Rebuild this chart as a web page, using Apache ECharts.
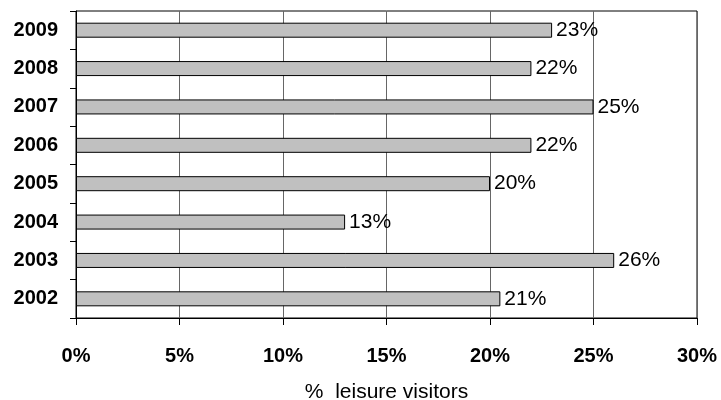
<!DOCTYPE html>
<html><head><meta charset="utf-8">
<script src="https://cdn.jsdelivr.net/npm/echarts@6/dist/echarts.min.js"></script>
<style>html,body{margin:0;padding:0;background:#fff}#c{width:721px;height:400px}</style>
</head><body><div id="c"></div>
<script>
var years = ['2002','2003','2004','2005','2006','2007','2008','2009'];
var leisurePct = [20.5, 26, 13, 20, 22, 25, 22, 23];
var xTicks = [0, 5, 10, 15, 20, 25, 30];
var axisTitle = '%  leisure visitors';

var chart = echarts.init(document.getElementById('c'));
var font = 'Liberation Sans, Arial, sans-serif';
chart.setOption({
  animation: false,
  grid: {left: 76, right: 24, top: 11, bottom: 82, show: true, borderColor: '#000', borderWidth: 1,
    outerBoundsMode: 'none', containLabel: false},
  xAxis: {
    type: 'value', min: xTicks[0], max: xTicks[xTicks.length-1], interval: 5,
    name: axisTitle, nameLocation: 'middle', nameGap: 64,
    nameTextStyle: {fontFamily: font, fontSize: 21, color: '#000'},
    axisLine: {show: true, lineStyle: {color: '#000', width: 1}},
    axisTick: {show: true, length: 7, lineStyle: {color: '#000'}},
    axisLabel: {fontFamily: font, fontSize: 20, fontWeight: 'bold', color: '#000', margin: 28,
      formatter: function(v){ return v + '%'; }},
    splitLine: {show: true, lineStyle: {color: '#666', width: 1}}
  },
  yAxis: [{
    type: 'category', data: years,
    axisLine: {show: true, lineStyle: {color: '#000', width: 1}},
    axisTick: {show: true, length: 6, lineStyle: {color: '#000'}},
    axisLabel: {fontFamily: font, fontSize: 20, fontWeight: 'bold', color: '#000', margin: 18},
    splitLine: {show: false}
  }, {
    type: 'category', data: years, position: 'left',
    axisLine: {show: false},
    axisTick: {show: true, inside: true, alignWithLabel: true, length: 5, lineStyle: {color: '#000'}},
    axisLabel: {show: false},
    splitLine: {show: false}
  }],
  series: [{
    type: 'bar', data: leisurePct, barWidth: 15, yAxisIndex: 0,
    itemStyle: {color: '#c0c0c0', borderColor: '#000', borderWidth: 1},
    label: {show: true, position: 'right', distance: 4, fontFamily: font, fontSize: 21, color: '#000',
      formatter: function(p){ return Math.round(p.value) + '%'; }}
  }]
});
</script></body></html>
